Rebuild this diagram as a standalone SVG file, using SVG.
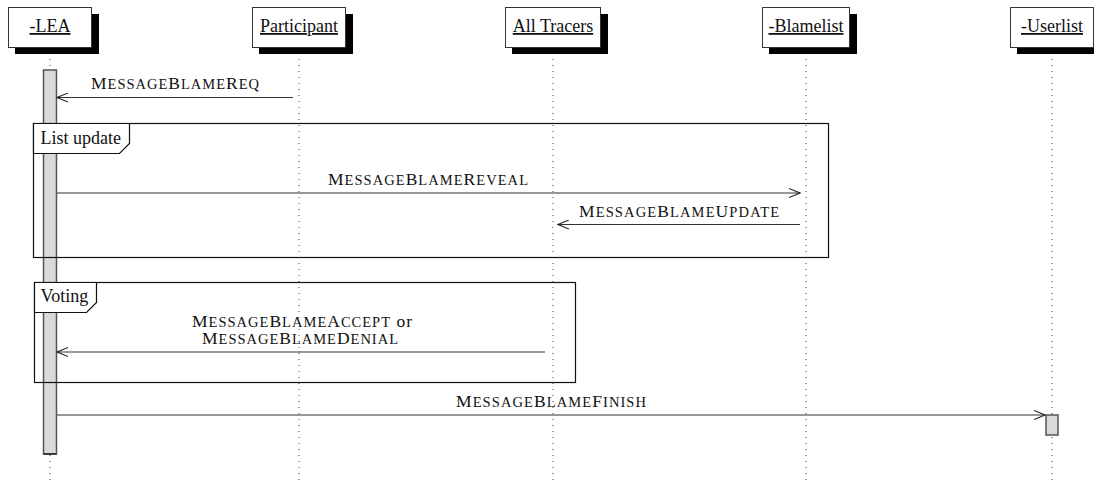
<svg xmlns="http://www.w3.org/2000/svg" width="1094" height="480" viewBox="0 0 1094 480">
  <style>
    text { font-family: "Liberation Serif", "Times New Roman", serif; fill: #111; }
    .head { font-size: 18px; text-anchor: middle; text-decoration: underline; }
    .box { fill: #fff; stroke: #333; stroke-width: 1; }
    .shadow { fill: #000; }
    .life { stroke: #444; stroke-width: 1; stroke-dasharray: 1 5; fill: none; }
    .act { fill: #d9d9d9; stroke: #555; stroke-width: 1.5; }
    .frame { fill: none; stroke: #111; stroke-width: 1.2; }
    .tab { fill: #fff; stroke: #111; stroke-width: 1.2; }
    .ftitle { font-size: 18px; }
    .msg { font-size: 17.5px; text-anchor: middle; }
    .sc { font-size: 14.5px; }
    .arrow { stroke: #333; stroke-width: 1.2; fill: none; marker-end: url(#open); }
  </style>
  <defs>
    <marker id="open" viewBox="0 0 12 10" refX="11" refY="5" markerWidth="12" markerHeight="10" markerUnits="userSpaceOnUse" orient="auto">
      <path d="M0,0.5 L11,5 L0,9.5" fill="none" stroke="#222" stroke-width="1.1"/>
    </marker>
  </defs>

  <rect width="1094" height="480" fill="#fff"/>

  <!-- lifelines -->
  <g id="lifelines">
    <line class="life" x1="50" y1="47" x2="50" y2="480"/>
    <line class="life" x1="299" y1="47" x2="299" y2="480"/>
    <line class="life" x1="553" y1="47" x2="553" y2="480"/>
    <line class="life" x1="806" y1="47" x2="806" y2="480"/>
    <line class="life" x1="1052" y1="47" x2="1052" y2="480"/>
  </g>

  <!-- participant heads -->
  <g id="lea">
    <rect class="shadow" x="15" y="14" width="84" height="40"/>
    <rect class="box" x="8.5" y="7.5" width="83" height="40"/>
    <text class="head" x="50" y="32">-LEA</text>
  </g>
  <g id="participant">
    <rect class="shadow" x="259" y="14" width="94" height="40"/>
    <rect class="box" x="252.5" y="7.5" width="93" height="40"/>
    <text class="head" x="299" y="32">Participant</text>
  </g>
  <g id="all-tracers">
    <rect class="shadow" x="512" y="14" width="96" height="40"/>
    <rect class="box" x="505.5" y="7.5" width="95" height="40"/>
    <text class="head" x="553" y="32">All Tracers</text>
  </g>
  <g id="blamelist">
    <rect class="shadow" x="769" y="14" width="88" height="40"/>
    <rect class="box" x="762.5" y="7.5" width="87" height="40"/>
    <text class="head" x="806" y="32">-Blamelist</text>
  </g>
  <g id="userlist">
    <rect class="shadow" x="1017" y="14" width="84" height="40"/>
    <rect class="box" x="1010.5" y="7.5" width="83" height="40"/>
    <text class="head" x="1052" y="32">-Userlist</text>
  </g>

  <!-- activations -->
  <g id="activations">
    <rect class="act" x="43.5" y="70" width="13" height="384"/>
    <line x1="43.5" y1="454" x2="56.5" y2="454" stroke="#111" stroke-width="1.2"/>
    <rect class="act" x="1046" y="415" width="12" height="20" stroke="#333" stroke-width="1"/>
  </g>

  <!-- combined fragments -->
  <g id="frame-list-update">
    <rect class="frame" x="33.5" y="123.5" width="795" height="134"/>
    <path class="tab" d="M33.5,123.5 H129.5 V143.5 L119.5,153.5 H33.5 Z"/>
    <text class="ftitle" x="40.5" y="143.5">List update</text>
  </g>
  <g id="frame-voting">
    <rect class="frame" x="34.5" y="282.5" width="541" height="100"/>
    <path class="tab" d="M34.5,282.5 H96.5 V302.5 L86.5,312.5 H34.5 Z"/>
    <text class="ftitle" x="40.5" y="302">Voting</text>
  </g>

  <!-- messages -->
  <g id="connectors">
    <line class="arrow" x1="293" y1="97.5" x2="57" y2="97.5"/>
    <text class="msg" x="175" y="89" textLength="168" lengthAdjust="spacing">M<tspan class="sc">ESSAGE</tspan>B<tspan class="sc">LAME</tspan>R<tspan class="sc">EQ</tspan></text>

    <line class="arrow" x1="57" y1="193" x2="800" y2="193"/>
    <text class="msg" x="428" y="185" textLength="200" lengthAdjust="spacing">M<tspan class="sc">ESSAGE</tspan>B<tspan class="sc">LAME</tspan>R<tspan class="sc">EVEAL</tspan></text>

    <line class="arrow" x1="800" y1="224.5" x2="558" y2="224.5"/>
    <text class="msg" x="679" y="217" textLength="200" lengthAdjust="spacing">M<tspan class="sc">ESSAGE</tspan>B<tspan class="sc">LAME</tspan>U<tspan class="sc">PDATE</tspan></text>

    <line class="arrow" x1="545" y1="352" x2="57" y2="352"/>
    <text class="msg" x="302" y="327" textLength="220" lengthAdjust="spacing">M<tspan class="sc">ESSAGE</tspan>B<tspan class="sc">LAME</tspan>A<tspan class="sc">CCEPT</tspan> or</text>
    <text class="msg" x="300" y="344" textLength="196" lengthAdjust="spacing">M<tspan class="sc">ESSAGE</tspan>B<tspan class="sc">LAME</tspan>D<tspan class="sc">ENIAL</tspan></text>

    <line class="arrow" x1="57" y1="415" x2="1045" y2="415"/>
    <text class="msg" x="551" y="407" textLength="190" lengthAdjust="spacing">M<tspan class="sc">ESSAGE</tspan>B<tspan class="sc">LAME</tspan>F<tspan class="sc">INISH</tspan></text>
  </g>
</svg>
